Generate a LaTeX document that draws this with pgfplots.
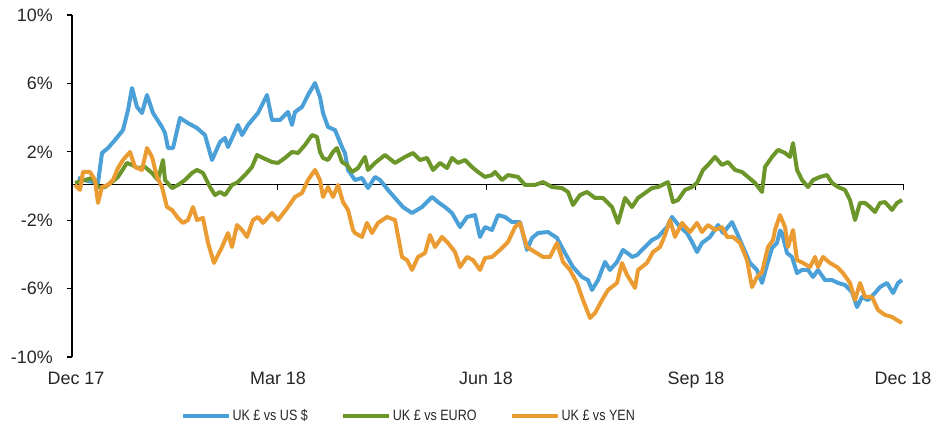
\documentclass[border=0pt]{standalone}
\usepackage{fontspec}
\setmainfont{Liberation Sans}
\usepackage{graphicx}
\usepackage{pgfplots}
\pgfplotsset{compat=1.18}
\definecolor{cblue}{RGB}{75,160,215}
\definecolor{cgreen}{RGB}{108,150,42}
\definecolor{corange}{RGB}{234,156,50}
\DeclareRobustCommand\nar[1]{\scalebox{0.84}[1]{#1}}
\begin{document}
\begin{tikzpicture}
\path[use as bounding box] (-72bp,-67bp) rectangle (862bp,357bp);
\begin{axis}[
  at={(0,0)}, anchor=south west,
  scale only axis, width=831bp, height=342bp,
  xmin=0, xmax=831, ymin=-10, ymax=10,
  clip=false,
  axis y line*=left, axis x line*=bottom,
  x axis line style={draw=none},
  y axis line style={line width=1.3bp, black},
  xtick={4,206,414,624,831},
  xticklabels={Dec 17,Mar 18,Jun 18,Sep 18,Dec 18},
  xtick style={draw=none},
  ytick={-10,-6,-2,2,6,10},
  yticklabels={-10\%,-6\%,-2\%,2\%,6\%,10\%},
  ytick style={line width=1.1bp, black},
  tick align=outside, major tick length=5bp,
  tick label style={font=\fontsize{18}{20}\selectfont, text=black!85},
  yticklabel style={anchor=east, inner sep=0pt, xshift=-14bp},
  xticklabel style={anchor=base, inner sep=0pt, yshift=-22bp},
  legend columns=3,
  legend cell align=left,
  legend image code/.code={\draw[#1, line width=4bp] (0bp,0bp) -- (46bp,0bp);},
  legend style={at={(0.131,-0.1725)}, anchor=west, draw=none, fill=none,
    inner sep=0pt, font=\fontsize{15}{17}\selectfont,
    nodes={inner sep=1.5bp, text=black!85},
    /tikz/every even column/.append style={column sep=32bp}},
  every axis plot/.append style={line width=4bp, line join=round},
]
\draw[black, line width=0.9bp] (axis cs:0,0.1) -- (axis cs:831,0.1);
\pgfplotsinvokeforeach{205,414,623,831}{\draw[black, line width=1bp] (axis cs:#1,0.1) -- ([yshift=-6bp]axis cs:#1,0.1);}
\addplot[cblue] coordinates {
(6,0.47) (16,0.29) (26,0.18) (30,1.93) (36,2.22) (43,2.69) (51,3.27) (56,4.44) (60,5.73)
(65,4.62) (70,4.27) (75,5.32) (81,4.27) (90,3.45) (93,3.10) (96,2.22) (101,2.22) (108,3.98)
(116,3.68) (125,3.39) (133,2.98) (140,1.52) (148,2.57) (153,2.81) (156,2.28) (166,3.57)
(170,2.98) (176,3.57) (186,4.27) (195,5.32) (200,3.86) (208,3.86) (216,4.33) (220,3.57)
(223,4.33) (230,4.62) (236,5.32) (243,6.02) (248,5.20) (251,4.27) (256,3.45) (263,3.27)
(270,2.28) (273,1.93) (276,0.94) (283,0.35) (290,0.47) (296,-0.12) (303,0.53) (308,0.35)
(316,-0.23) (323,-0.70) (331,-1.23) (340,-1.58) (350,-1.23) (360,-0.64) (366,-0.94)
(373,-1.23) (380,-1.58) (388,-2.40) (395,-1.81) (403,-1.70) (408,-2.98) (413,-2.40)
(420,-2.57) (426,-1.70) (433,-1.81) (440,-2.11) (448,-2.11) (455,-3.74) (460,-3.04)
(466,-2.75) (476,-2.69) (485,-3.04) (493,-3.92) (501,-4.74) (510,-5.32) (516,-5.50)
(520,-6.08) (526,-5.50) (533,-4.44) (538,-4.91) (545,-4.44) (551,-3.74) (558,-4.04)
(560,-4.15) (565,-4.04) (573,-3.57) (580,-3.16) (586,-2.98) (595,-2.40) (600,-1.81)
(608,-2.40) (615,-2.75) (620,-3.27) (625,-3.86) (630,-3.33) (638,-2.98) (646,-2.28)
(651,-2.75) (660,-2.11) (665,-2.75) (671,-3.57) (678,-4.50) (685,-4.91) (690,-5.67)
(695,-4.62) (700,-3.63) (705,-3.33) (708,-2.60) (710,-2.75) (715,-3.92) (720,-4.15)
(725,-5.09) (730,-4.91) (736,-4.91) (741,-5.32) (746,-4.91) (753,-5.50) (760,-5.50)
(766,-5.67) (773,-5.79) (780,-6.20) (785,-7.08) (790,-6.49) (796,-6.67) (803,-6.26)
(808,-5.91) (815,-5.67) (821,-6.26) (826,-5.67) (830,-5.50)
};
\addlegendentry{\nar{UK £ vs US \$}}
\addplot[cgreen] coordinates {
(3,0.18) (13,0.35) (20,0.47) (26,-0.06) (33,-0.06) (40,0.23) (46,0.53) (55,1.35) (60,1.23)
(66,1.05) (73,1.11) (80,0.76) (86,0.35) (91,1.52) (93,0.35) (100,-0.12) (106,0.06)
(113,0.35) (120,0.76) (125,0.94) (131,0.76) (138,-0.06) (143,-0.53) (148,-0.35)
(153,-0.53) (160,0.06) (166,0.23) (173,0.64) (180,1.11) (185,1.81) (191,1.64) (200,1.40)
(206,1.35) (213,1.64) (220,1.99) (226,1.93) (233,2.40) (240,2.98) (245,2.87) (248,1.99)
(251,1.64) (256,1.52) (261,1.99) (265,2.22) (270,1.40) (275,1.23) (280,0.82) (286,1.05)
(293,1.70) (296,0.94) (303,1.35) (313,1.81) (323,1.35) (333,1.70) (341,1.93) (348,1.52)
(355,1.64) (361,0.94) (368,1.35) (375,1.05) (380,1.64) (386,1.35) (393,1.52) (400,1.11)
(406,0.82) (413,0.53) (420,0.64) (423,0.82) (430,0.35) (436,0.64) (446,0.53) (453,0.06)
(463,0.06) (471,0.23) (480,-0.06) (490,-0.12) (496,-0.35) (501,-1.11) (508,-0.53)
(515,-0.35) (523,-0.70) (531,-0.70) (540,-1.23) (546,-2.16) (553,-0.70) (560,-1.23)
(566,-0.70) (573,-0.41) (580,-0.12) (586,-0.06) (596,0.23) (601,-0.94) (606,-0.82)
(613,-0.23) (620,-0.06) (625,0.18) (631,0.94) (636,1.23) (643,1.70) (650,1.23) (656,1.40)
(663,0.94) (670,0.82) (676,0.53) (683,0.18) (690,-0.35) (693,1.11) (700,1.70) (706,2.11)
(713,1.93) (718,1.70) (721,2.51) (725,0.94) (730,0.35) (736,-0.06) (741,0.35) (748,0.53)
(755,0.64) (760,0.18) (766,-0.06) (773,-0.23) (778,-0.82) (783,-1.99) (788,-0.99)
(793,-0.99) (798,-1.23) (803,-1.52) (808,-0.99) (813,-0.94) (820,-1.40) (825,-0.99)
(830,-0.82)
};
\addlegendentry{\nar{UK £ vs EURO}}
\addplot[corange] coordinates {
(3,0.06) (8,-0.23) (11,0.82) (18,0.82) (23,0.35) (26,-0.99) (30,-0.06) (36,0.06) (41,0.35)
(46,1.05) (51,1.52) (58,1.99) (63,1.11) (70,0.94) (75,2.22) (80,1.70) (85,0.53) (90,-0.06)
(95,-1.23) (100,-1.40) (106,-1.87) (111,-2.16) (116,-1.99) (121,-1.23) (125,-1.99)
(131,-1.87) (136,-3.33) (142,-4.50) (150,-3.57) (156,-2.75) (160,-3.57) (165,-2.28)
(170,-2.57) (175,-2.98) (181,-1.99) (186,-1.81) (191,-2.16) (200,-1.58) (206,-1.99)
(216,-1.23) (223,-0.64) (230,-0.41) (236,0.35) (243,0.94) (248,0.35) (251,-0.64)
(256,-0.06) (261,-0.64) (266,0.06) (271,-0.94) (276,-1.40) (281,-2.57) (283,-2.75)
(290,-2.98) (295,-2.16) (300,-2.75) (306,-2.16) (315,-1.81) (323,-1.99) (330,-4.15)
(335,-4.33) (340,-4.91) (346,-4.15) (353,-3.92) (358,-2.87) (363,-3.57) (370,-2.98)
(376,-3.33) (383,-3.86) (388,-4.74) (395,-4.15) (401,-4.33) (408,-4.91) (413,-4.21)
(420,-4.15) (428,-3.74) (436,-3.27) (443,-2.40) (448,-2.16) (455,-3.57) (463,-3.86)
(471,-4.15) (478,-4.15) (485,-3.33) (491,-4.44) (498,-4.91) (505,-5.67) (511,-6.67)
(518,-7.72) (523,-7.43) (530,-6.67) (536,-6.08) (545,-5.67) (550,-4.50) (555,-5.20)
(560,-5.67) (563,-5.96) (566,-4.91) (575,-4.50) (581,-3.86) (588,-3.57) (593,-2.87)
(598,-1.99) (603,-2.98) (610,-2.16) (618,-2.69) (625,-2.16) (630,-2.69) (636,-2.28)
(643,-2.57) (650,-2.40) (655,-2.98) (661,-2.98) (668,-3.33) (675,-4.33) (680,-5.91)
(685,-5.32) (690,-5.03) (696,-3.57) (701,-3.16) (703,-2.57) (708,-1.70) (713,-2.40)
(716,-3.57) (721,-2.57) (725,-4.33) (731,-4.50) (738,-4.74) (743,-4.15) (746,-4.74)
(751,-4.15) (758,-4.50) (765,-4.74) (771,-5.09) (778,-5.67) (783,-6.67) (788,-5.67)
(793,-6.49) (800,-6.49) (806,-7.25) (813,-7.54) (820,-7.66) (825,-7.84) (830,-8.01)
};
\addlegendentry{\nar{UK £ vs YEN}}
\end{axis}
\end{tikzpicture}
\end{document}
